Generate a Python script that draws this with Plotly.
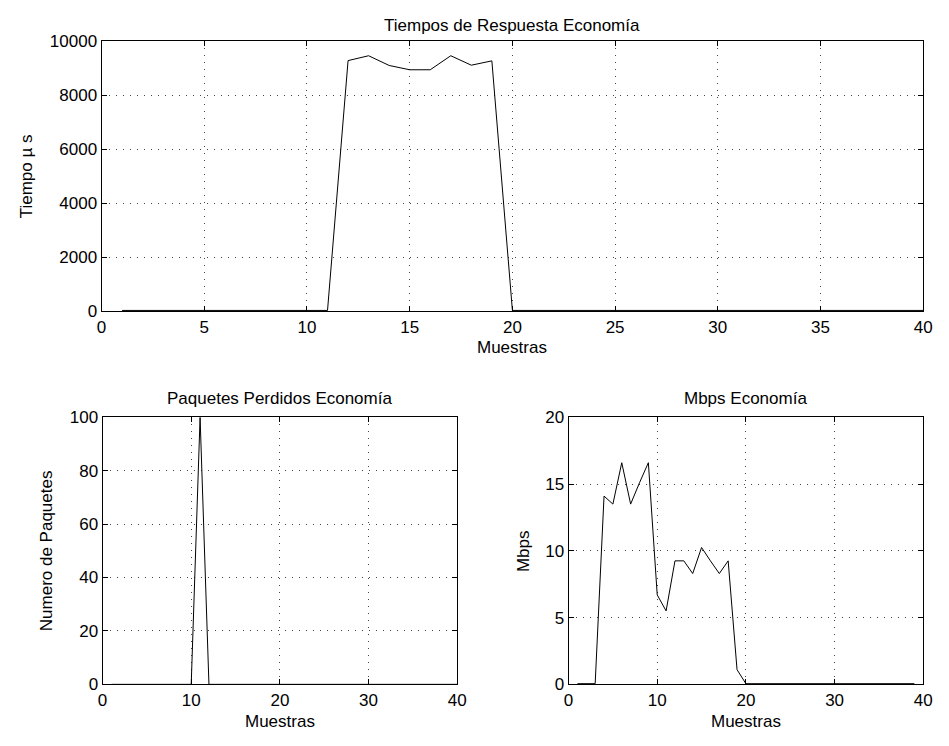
import plotly.graph_objects as go

# ---- data ----
muestras_t = list(range(1, 41))
tiempo_us = [25, 25, 25, 25, 25, 25, 25, 25, 25, 25,
             25, 9280, 9460, 9100, 8940, 8940, 9460, 9110, 9270, 25,
             25, 25, 25, 25, 25, 25, 25, 25, 25, 25,
             25, 25, 25, 25, 25, 25, 25, 25, 25, 25]

muestras_p = list(range(1, 41))
paquetes = [0] * 10 + [100] + [0] * 29

muestras_m = list(range(1, 40))
mbps = [0.05, 0.05, 0.05, 14.1, 13.5, 16.6, 13.5, 15.1, 16.6, 6.7,
        5.5, 9.25, 9.25, 8.3, 10.25, 9.25, 8.3, 9.25, 1.1, 0.05,
        0.05, 0.05, 0.05, 0.05, 0.05, 0.05, 0.05, 0.05, 0.05, 0.05,
        0.05, 0.05, 0.05, 0.05, 0.05, 0.05, 0.05, 0.05, 0.05]

titles = ["Tiempos de Respuesta Economía", "Paquetes Perdidos Economía", "Mbps Economía"]
xlabel = "Muestras"
ylabels = ["Tiempo µ s", "Numero de Paquetes", "Mbps"]

ticks_x_top = [0, 5, 10, 15, 20, 25, 30, 35, 40]
ticks_y_top = [0, 2000, 4000, 6000, 8000, 10000]
ticks_x_bot = [0, 10, 20, 30, 40]
ticks_y_paq = [0, 20, 40, 60, 80, 100]
ticks_y_mbps = [0, 5, 10, 15, 20]

W, H = 949, 746
FONT = "Liberation Sans, Arial, Helvetica, sans-serif"
FS = 17

def px_x(p):
    return p / W

def px_y(p):
    return 1 - p / H

fig = go.Figure()
fig.add_trace(go.Scatter(x=muestras_t, y=tiempo_us, mode="lines",
                         line=dict(color="black", width=1), xaxis="x", yaxis="y"))
fig.add_trace(go.Scatter(x=muestras_p, y=paquetes, mode="lines",
                         line=dict(color="black", width=1), xaxis="x2", yaxis="y2"))
fig.add_trace(go.Scatter(x=muestras_m, y=mbps, mode="lines",
                         line=dict(color="black", width=1), xaxis="x3", yaxis="y3"))

common = dict(showline=True, linecolor="black", linewidth=1, mirror="ticks",
              ticks="inside", ticklen=5, tickcolor="black", tickwidth=1,
              showgrid=True, gridcolor="#444444", gridwidth=1, griddash="1px,6px",
              zeroline=False, tickfont=dict(family=FONT, size=FS, color="black"),
              fixedrange=True)

def tv(vals):
    return dict(tickvals=vals, ticktext=[str(v) for v in vals])

dom_top_x = [px_x(98), px_x(932)]
dom_top_y = [px_y(310), px_y(33)]
dom_bl_x = [px_x(99), px_x(459)]
dom_br_x = [px_x(572), px_x(932)]
dom_b_y = [px_y(693), px_y(419)]

fig.update_layout(
    width=W, height=H,
    margin=dict(l=0, r=0, t=0, b=0),
    paper_bgcolor="white", plot_bgcolor="white",
    showlegend=False,
    font=dict(family=FONT, size=FS, color="black"),
    xaxis=dict(domain=dom_top_x, range=[0, 40], anchor="y", **tv(ticks_x_top), **common),
    yaxis=dict(domain=dom_top_y, range=[0, 10000], anchor="x", **tv(ticks_y_top), **common),
    xaxis2=dict(domain=dom_bl_x, range=[0, 40], anchor="y2", **tv(ticks_x_bot), **common),
    yaxis2=dict(domain=dom_b_y, range=[0, 100], anchor="x2", **tv(ticks_y_paq), **common),
    xaxis3=dict(domain=dom_br_x, range=[0, 40], anchor="y3", **tv(ticks_x_bot), **common),
    yaxis3=dict(domain=dom_b_y, range=[0, 20], anchor="x3", **tv(ticks_y_mbps), **common),
)

ann = []
def add_text(text, x, y, angle=0):
    ann.append(dict(text=text, x=px_x(x), y=px_y(y), xref="paper", yref="paper",
                    showarrow=False, xanchor="center", yanchor="middle", textangle=angle,
                    font=dict(family=FONT, size=FS, color="black")))

add_text(titles[0], 515, 17)
add_text(titles[1], 279, 400)
add_text(titles[2], 752, 400)
add_text(xlabel, 515, 347)
add_text(xlabel, 279, 731)
add_text(xlabel, 752, 731)
add_text(ylabels[0], 22, 172, -90)
add_text(ylabels[1], 42, 556, -90)
add_text(ylabels[2], 527, 556, -90)
fig.update_layout(annotations=ann)

fig.write_html("out.html")
